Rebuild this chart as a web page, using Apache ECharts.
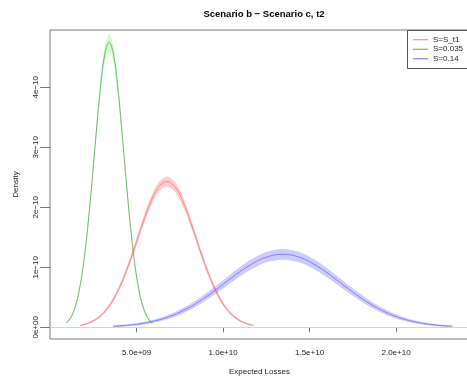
<!DOCTYPE html>
<html>
<head>
<meta charset="utf-8">
<script src="https://cdn.jsdelivr.net/npm/echarts@6/dist/echarts.min.js"></script>
<style>
  html, body { margin: 0; padding: 0; background: #fff; }
  #chart { width: 467px; height: 378px; }
</style>
</head>
<body>
<div id="chart"></div>
<script>
// losses in units of 1e9, densities in units of 1e-10
var lossGreen = [0.91, 1.16, 1.41, 1.66, 1.91, 2.16, 2.41, 2.66, 2.91, 3.16, 3.41, 3.66, 3.91, 4.16, 4.41, 4.66, 4.91, 5.16, 5.41, 5.66, 5.91];
var densGreen = [0.066, 0.149, 0.308, 0.585, 1.019, 1.632, 2.397, 3.233, 4.003, 4.551, 4.75, 4.551, 4.003, 3.233, 2.397, 1.632, 1.019, 0.585, 0.308, 0.149, 0.066];
var lowGreen  = [0.050, 0.124, 0.272, 0.536, 0.954, 1.550, 2.298, 3.118, 3.875, 4.414, 4.61, 4.414, 3.875, 3.118, 2.298, 1.550, 0.954, 0.536, 0.272, 0.124, 0.050];
var highGreen = [0.083, 0.174, 0.344, 0.634, 1.084, 1.714, 2.496, 3.348, 4.131, 4.688, 4.89, 4.688, 4.131, 3.348, 2.496, 1.714, 1.084, 0.634, 0.344, 0.174, 0.083];

var lossRed = [1.75, 2.25, 2.75, 3.25, 3.75, 4.25, 4.75, 5.25, 5.75, 6.25, 6.75, 7.25, 7.75, 8.25, 8.75, 9.25, 9.75, 10.25, 10.75, 11.25, 11.75];
var densRed = [0.032, 0.073, 0.153, 0.292, 0.512, 0.824, 1.216, 1.647, 2.044, 2.327, 2.43, 2.327, 2.044, 1.647, 1.216, 0.824, 0.512, 0.292, 0.153, 0.073, 0.032];
var lowRed  = [0.022, 0.058, 0.132, 0.263, 0.473, 0.775, 1.156, 1.577, 1.966, 2.244, 2.345, 2.244, 1.966, 1.577, 1.156, 0.775, 0.473, 0.263, 0.132, 0.058, 0.022];
var highRed = [0.042, 0.088, 0.174, 0.321, 0.551, 0.874, 1.276, 1.717, 2.122, 2.410, 2.515, 2.410, 2.122, 1.717, 1.276, 0.874, 0.551, 0.321, 0.174, 0.088, 0.042];

var lossBlue = [3.65, 4.63, 5.61, 6.59, 7.57, 8.55, 9.53, 10.51, 11.49, 12.47, 13.45, 14.43, 15.41, 16.39, 17.37, 18.35, 19.33, 20.31, 21.29, 22.27, 23.25];
var densBlue = [0.017, 0.038, 0.079, 0.150, 0.261, 0.418, 0.614, 0.828, 1.026, 1.166, 1.217, 1.166, 1.026, 0.828, 0.614, 0.418, 0.261, 0.150, 0.079, 0.038, 0.017];
var lowBlue  = [0.006, 0.022, 0.056, 0.118, 0.219, 0.365, 0.550, 0.754, 0.943, 1.078, 1.127, 1.078, 0.943, 0.754, 0.550, 0.365, 0.219, 0.118, 0.056, 0.022, 0.006];
var highBlue = [0.028, 0.054, 0.102, 0.181, 0.303, 0.470, 0.678, 0.902, 1.108, 1.254, 1.307, 1.254, 1.108, 0.902, 0.678, 0.470, 0.303, 0.181, 0.102, 0.054, 0.028];

var xTicks = [5, 10, 15, 20];
var xTickLabels = ['5.0e+09', '1.0e+10', '1.5e+10', '2.0e+10'];
var yTicks = [0, 1, 2, 3, 4];
var yTickLabels = ['0e+00', '1e\u221210', '2e\u221210', '3e\u221210', '4e\u221210'];

var seriesNames = ['S=S_t1', 'S=0.035', 'S=0.14'];

var font = 'Liberation Sans, Arial, sans-serif';

function pairs(xs, ys) {
    return xs.map(function (x, i) { return [x, ys[i]]; });
}

// confidence bands: upper edge left->right, lower edge right->left
var bands = [
    { x: lossRed, lo: lowRed, hi: highRed, fill: 'rgba(255,0,0,0.2)' },
    { x: lossGreen, lo: lowGreen, hi: highGreen, fill: 'rgba(0,255,0,0.2)' },
    { x: lossBlue, lo: lowBlue, hi: highBlue, fill: 'rgba(0,0,255,0.2)' }
];

function renderBand(params, api) {
    var b = bands[params.dataIndex];
    var top = b.x.map(function (x, i) { return api.coord([x, b.hi[i]]); });
    var bottom = b.x.map(function (x, i) { return api.coord([x, b.lo[i]]); }).reverse();
    return {
        type: 'polygon',
        shape: { points: top.concat(bottom), smooth: 0.3 },
        style: { fill: b.fill, stroke: null }
    };
}

var chart = echarts.init(document.getElementById('chart'));

var option = {
    animation: false,
    backgroundColor: '#fff',
    title: {
        text: 'Scenario b \u2212 Scenario c, t2',
        left: 259, top: 4, textAlign: 'center',
        textStyle: { fontFamily: font, fontSize: 9.5, fontWeight: 'bold', color: '#000' }
    },
    // legend frame runs off the right edge, like the original
    graphic: [{
        type: 'rect', silent: true, z: 10,
        shape: { x: 407.5, y: 30.5, width: 80, height: 38 },
        style: { fill: null, stroke: '#555', lineWidth: 1 }
    }],
    legend: {
        orient: 'vertical',
        left: 407, top: 30,
        padding: [5, 4, 4, 6],
        borderWidth: 0,
        itemGap: 0,
        itemWidth: 15, itemHeight: 1,
        icon: 'rect',
        data: seriesNames,
        textStyle: { fontFamily: font, fontSize: 8, color: '#222', lineHeight: 9.5 }
    },
    grid: {
        show: true,
        left: 50, right: -2, top: 30, bottom: 39,
        outerBoundsMode: 'none',
        borderColor: '#777', borderWidth: 1,
        backgroundColor: 'transparent'
    },
    xAxis: {
        type: 'value',
        min: -0.01, max: 24.22,
        name: 'Expected Losses',
        nameLocation: 'middle', nameGap: 29,
        nameTextStyle: { fontFamily: font, fontSize: 8, color: '#222' },
        axisLine: { show: false },
        splitLine: { show: false },
        axisTick: { show: true, length: 5, customValues: xTicks, lineStyle: { color: '#777' } },
        axisLabel: {
            customValues: xTicks, margin: 10,
            fontFamily: font, fontSize: 8, color: '#222',
            formatter: function (v) { return xTickLabels[xTicks.indexOf(v)]; }
        }
    },
    yAxis: {
        type: 'value',
        min: -0.195, max: 4.955,
        name: 'Density',
        nameLocation: 'middle', nameGap: 30,
        nameTextStyle: { fontFamily: font, fontSize: 8, color: '#222' },
        axisLine: { show: false },
        splitLine: { show: false },
        axisTick: { show: true, length: 10, customValues: yTicks, lineStyle: { color: '#777' } },
        axisLabel: {
            customValues: yTicks, margin: 10, rotate: 90,
            fontFamily: font, fontSize: 8, color: '#222',
            formatter: function (v) { return yTickLabels[yTicks.indexOf(v)]; }
        }
    },
    series: [
        {
            name: 'bands', type: 'custom', silent: true,
            renderItem: renderBand,
            data: [[6.75, 1], [3.41, 2], [13.45, 0.6]],
            z: 1
        },
        {
            name: seriesNames[0], type: 'line', smooth: 0.4, symbol: 'none',
            color: '#ff7070', z: 2,
            lineStyle: { width: 0.8, color: '#ff7070' },
            data: pairs(lossRed, densRed),
            markLine: {
                silent: true, symbol: 'none', label: { show: false },
                lineStyle: { color: '#d3d3d3', type: 'solid', width: 1 },
                data: [{ yAxis: 0 }]
            }
        },
        {
            name: seriesNames[1], type: 'line', smooth: 0.4, symbol: 'none',
            color: '#5aa65a', z: 2,
            lineStyle: { width: 0.8, color: '#5aa65a' },
            data: pairs(lossGreen, densGreen)
        },
        {
            name: seriesNames[2], type: 'line', smooth: 0.4, symbol: 'none',
            color: '#6a6aff', z: 2,
            lineStyle: { width: 0.8, color: '#6a6aff' },
            data: pairs(lossBlue, densBlue)
        }
    ]
};

chart.setOption(option);
</script>
</body>
</html>
